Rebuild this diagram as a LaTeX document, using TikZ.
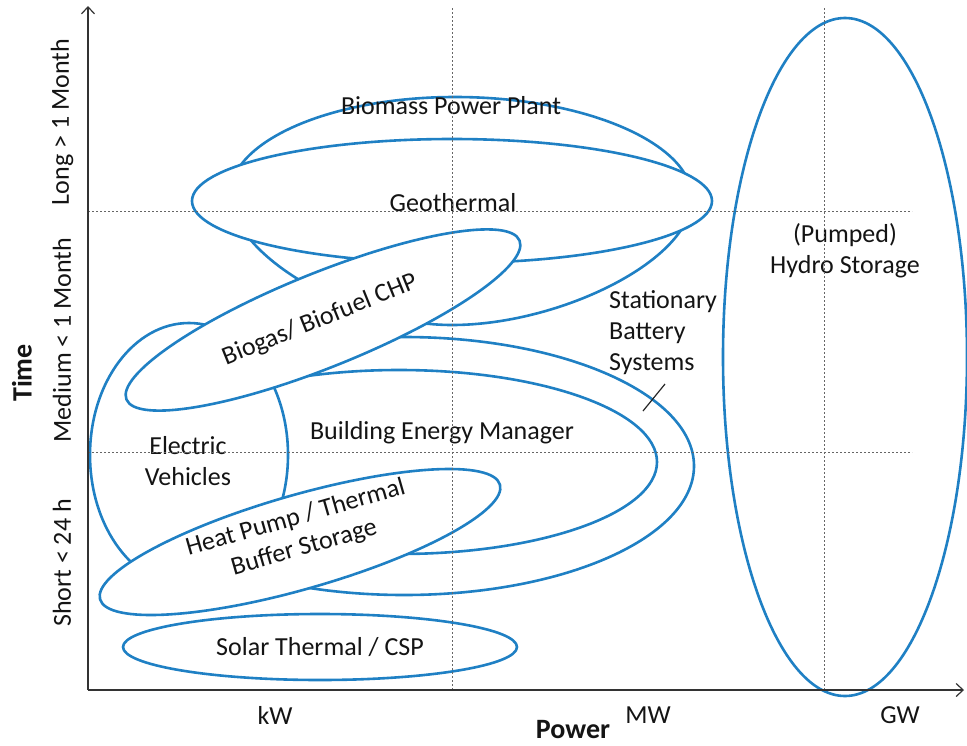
\documentclass[tikz,border=0pt]{standalone}
\usepackage{fontspec}
\setmainfont{Carlito}
\usetikzlibrary{arrows.meta}
\definecolor{zoneblue}{RGB}{31,128,196}
\tikzset{
  zone/.style={draw=zoneblue, line width=2.6pt, fill=white},
  lbl/.style={font=\fontsize{26}{31}\selectfont, text=black!92, align=center, inner sep=0pt},
  axlbl/.style={font=\fontsize{28}{32}\selectfont\bfseries, text=black!92, inner sep=0pt},
  grid line/.style={black!60, line width=0.7pt, dash pattern=on 2pt off 2pt},
  axis/.style={black!80, line width=1.2pt, -{Straight Barb[length=7pt,width=13pt]}}
}
\begin{document}
\begin{tikzpicture}[x=1pt,y=-1pt]
\useasboundingbox (0,0) rectangle (967,745);
\draw[zone] (230,195) .. controls (230,141) and (331,97) .. (455,97)
  .. controls (586,97) and (692,144) .. (692,198)
  .. controls (692,260) and (560,325) .. (452,325)
  .. controls (350,325) and (232,255) .. (230,195) -- cycle;
\draw[zone] (452,201) ellipse [x radius=260, y radius=62];
\draw[zone] (404,466) ellipse [x radius=290, y radius=129];
\draw[zone] (399,462) ellipse [x radius=258, y radius=92];
\draw[zone] (189,455) ellipse [x radius=99, y radius=132];
\draw[zone, rotate around={16:(300,542)}] (300,542) ellipse [x radius=208, y radius=47];
\draw[zone, rotate around={22:(323,320)}] (323,320) ellipse [x radius=212, y radius=47];
\draw[zone] (320,647) ellipse [x radius=197, y radius=33];
\draw[zone] (845,357) ellipse [x radius=122, y radius=339];

\node[lbl] (biomass) at (451,106) {Biomass Power Plant};
\node[lbl] (geo) at (453,203) {Geothermal};
\node[lbl] (hydro) at (845,251) {(Pumped)\\Hydro Storage};
\node[lbl, anchor=west, align=left] (battery) at (609,333) {Stationary\\Battery\\Systems};
\node[lbl, rotate=22] (biogas) at (320,320) {Biogas/ Biofuel CHP};
\node[lbl] (ev) at (188,461) {Electric\\Vehicles};
\node[lbl] (bem) at (442,433) {Building Energy Manager};
\node[lbl, rotate=16] (heat) at (300,533) {Heat Pump / Thermal\\Buffer Storage};
\node[lbl] (solar) at (320,647) {Solar Thermal / CSP};

\coordinate (bp1) at (665,384);
\coordinate (bp2) at (643,411);
\draw[black!85, line width=1.2pt] (bp1) -- (bp2);

\foreach \gx in {452,824}
  \draw[grid line] (\gx,8) -- (\gx,690);
\foreach \gy in {211,452}
  \draw[grid line] (88,\gy) -- (912,\gy);

\coordinate (o) at (88,690);
\coordinate (ytop) at (88,6);
\coordinate (xend) at (964,690);
\draw[axis] (o) -- (ytop);
\draw[axis] (o) -- (xend);

\node[lbl, rotate=90] (long) at (62,122) {Long > 1 Month};
\node[lbl, rotate=90] (medium) at (62,340) {Medium < 1 Month};
\node[lbl, rotate=90] (short) at (62,563) {Short < 24 h};
\node[axlbl, rotate=90] (time) at (22,373) {Time};
\node[lbl] (kw) at (275,715) {kW};
\node[lbl] (mw) at (648,715) {MW};
\node[lbl] (gw) at (900,715) {GW};
\node[axlbl] (power) at (573,730) {Power};
\end{tikzpicture}
\end{document}
